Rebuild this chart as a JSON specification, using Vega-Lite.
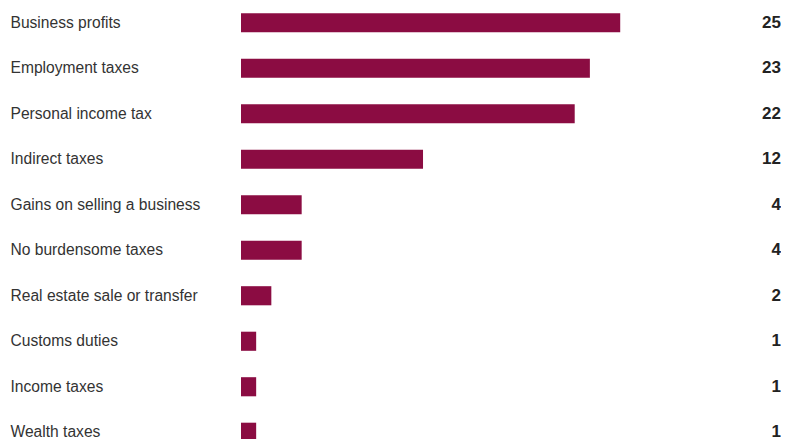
{
  "$schema": "https://vega.github.io/schema/vega-lite/v6.json",
  "width": 540,
  "height": 455,
  "padding": {"left": 10, "top": 0, "right": 0, "bottom": 0},
  "autosize": {"type": "pad"},
  "background": "white",
  "config": {"view": {"stroke": null}},
  "data": {"values": [
    {"category": "Business profits", "value": 25},
    {"category": "Employment taxes", "value": 23},
    {"category": "Personal income tax", "value": 22},
    {"category": "Indirect taxes", "value": 12},
    {"category": "Gains on selling a business", "value": 4},
    {"category": "No burdensome taxes", "value": 4},
    {"category": "Real estate sale or transfer", "value": 2},
    {"category": "Customs duties", "value": 1},
    {"category": "Income taxes", "value": 1},
    {"category": "Wealth taxes", "value": 1}
  ]},
  "encoding": {
    "y": {
      "field": "category", "type": "nominal", "sort": null,
      "scale": {"paddingInner": 0.58, "paddingOuter": 0.29},
      "axis": {
        "title": null, "domain": false, "ticks": false,
        "labelAlign": "left", "labelPadding": 231,
        "labelFont": "Liberation Sans", "labelFontSize": 15.6,
        "labelColor": "#333333", "labelLimit": 300
      }
    }
  },
  "layer": [
    {
      "mark": {"type": "bar", "color": "#8B0C42"},
      "encoding": {
        "x": {"field": "value", "type": "quantitative",
              "scale": {"domain": [0, 35.6], "nice": false},
              "axis": null}
      }
    },
    {
      "mark": {"type": "text", "align": "right", "baseline": "middle",
               "font": "Liberation Sans", "fontSize": 17, "fontWeight": "bold",
               "color": "#222222"},
      "encoding": {
        "x": {"datum": 35.6, "type": "quantitative"},
        "text": {"field": "value", "type": "quantitative"}
      }
    }
  ]
}
